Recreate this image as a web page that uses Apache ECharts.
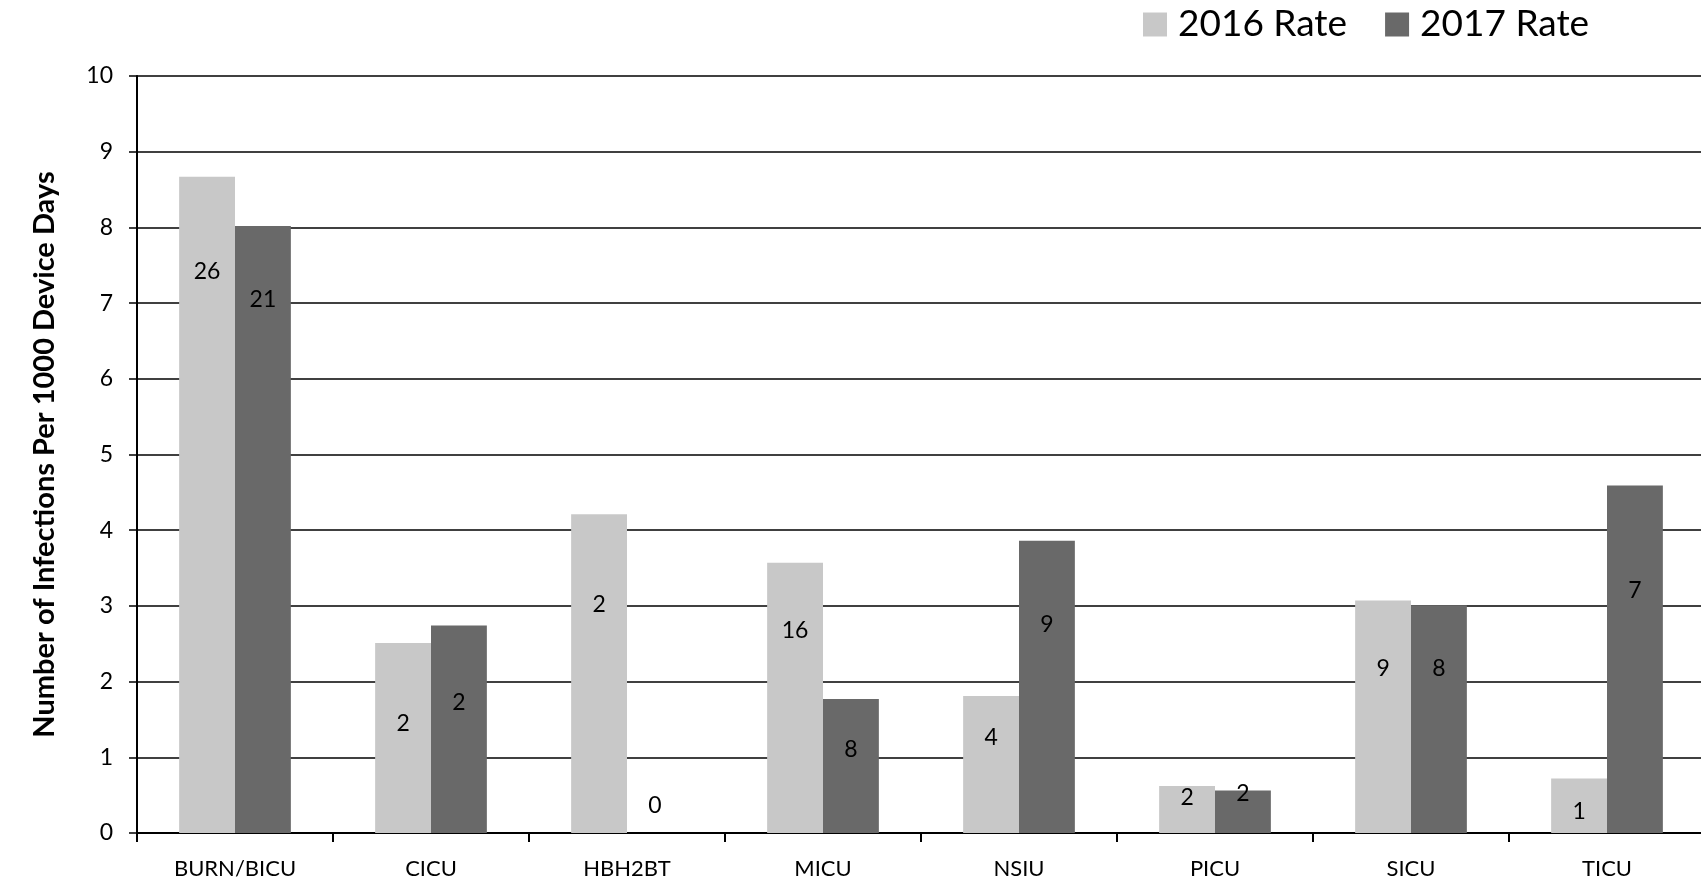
<!DOCTYPE html>
<html>
<head>
<meta charset="utf-8">
<script src="https://cdn.jsdelivr.net/npm/echarts@6/dist/echarts.min.js"></script>
<style>
  html, body { margin: 0; padding: 0; background: #fff; }
  #chart { width: 1701px; height: 883px; }
</style>
</head>
<body>
<div id="chart"></div>
<script>
// Infection rates per 1000 device days by unit, with infection counts shown on the bars
const units = ['BURN/BICU', 'CICU', 'HBH2BT', 'MICU', 'NSIU', 'PICU', 'SICU', 'TICU'];
const rate2016 = [8.67, 2.51, 4.21, 3.57, 1.81, 0.62, 3.07, 0.72];
const rate2017 = [8.02, 2.74, 0, 1.77, 3.86, 0.56, 3.01, 4.59];
const count2016 = [26, 2, 2, 16, 4, 2, 9, 1];
const count2017 = [21, 2, 0, 8, 9, 2, 8, 7];
const yTicks = [0, 1, 2, 3, 4, 5, 6, 7, 8, 9, 10];
const seriesNames = ['2016 Rate', '2017 Rate'];

const FONT = 'Lato, "Open Sans", sans-serif';

// how far each count label sits below the top of its bar (label centre, px)
const labelDrop = [
  [95, 81, 91, 68, 42, 12, 68, 34],
  [74, 77, -27, 51, 84, 3, 64, 106]
];

function barData(rates, counts, drops) {
  return rates.map((v, i) => ({
    value: v,
    label: {
      show: true,
      position: 'insideTop',
      distance: 0,
      offset: [0, drops[i] - 12],
      formatter: () => String(counts[i])
    }
  }));
}

const chart = echarts.init(document.getElementById('chart'), null, { renderer: 'canvas' });

chart.setOption({
  animation: false,
  backgroundColor: '#ffffff',
  textStyle: { fontFamily: FONT },
  legend: {
    left: 1138,
    top: 1,
    itemWidth: 24,
    itemHeight: 24,
    itemGap: 38,
    icon: 'rect',
    data: seriesNames,
    textStyle: { fontFamily: FONT, fontSize: 37, color: '#000', padding: [0, 0, 0, 6] }
  },
  // the plot runs slightly past the right edge of the canvas
  grid: { left: 137, top: 76, width: 1568, height: 757, outerBoundsMode: 'none', containLabel: false },
  xAxis: {
    type: 'category',
    data: units,
    axisLine: { show: true, lineStyle: { color: '#000', width: 2 } },
    axisTick: { show: true, length: 9, lineStyle: { color: '#000', width: 2 } },
    axisLabel: { interval: 0, margin: 25, fontFamily: FONT, fontSize: 22, color: '#000' },
    splitLine: { show: false }
  },
  yAxis: {
    type: 'value',
    min: yTicks[0],
    max: yTicks[yTicks.length - 1],
    interval: 1,
    name: 'Number of Infections Per 1000 Device Days',
    nameLocation: 'middle',
    nameRotate: 90,
    nameGap: 78,
    nameTextStyle: { fontFamily: FONT, fontSize: 29, fontWeight: 'bold', color: '#000' },
    axisLine: { show: true, lineStyle: { color: '#000', width: 2 } },
    axisTick: { show: true, length: 8, lineStyle: { color: '#000', width: 1.5 } },
    axisLabel: { margin: 24, fontFamily: FONT, fontSize: 23, color: '#000' },
    splitLine: { show: true, lineStyle: { color: '#000', width: 1.5 } }
  },
  series: [
    {
      name: seriesNames[0],
      type: 'bar',
      barGap: '0%',
      barCategoryGap: '43%',
      itemStyle: { color: '#c8c8c8' },
      label: { fontFamily: FONT, fontSize: 23, color: '#000' },
      data: barData(rate2016, count2016, labelDrop[0])
    },
    {
      name: seriesNames[1],
      type: 'bar',
      barGap: '0%',
      barCategoryGap: '43%',
      itemStyle: { color: '#696969' },
      label: { fontFamily: FONT, fontSize: 23, color: '#000' },
      data: barData(rate2017, count2017, labelDrop[1])
    }
  ]
});
</script>
</body>
</html>
